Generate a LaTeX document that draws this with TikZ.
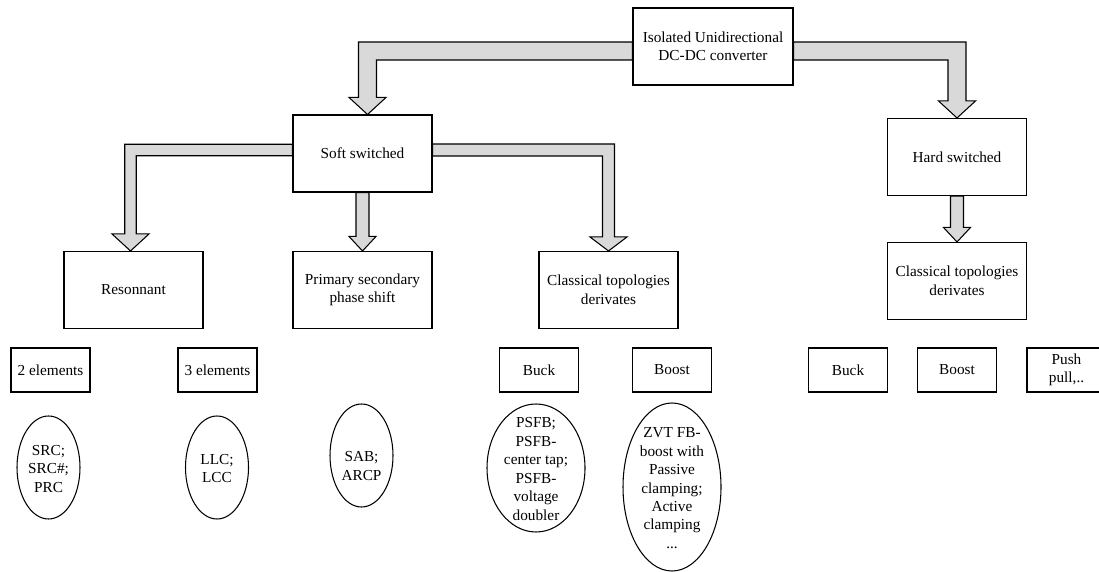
\documentclass[tikz,border=0pt]{standalone}
\usepackage{fontspec}
\setmainfont{Liberation Serif}
\usetikzlibrary{calc, shapes.geometric}
\definecolor{arrowfill}{HTML}{D9D9D9}
\colorlet{boxline}{black}
\newcommand{\leaftext}[2][0pt]{%
    \smash{\raisebox{\dimexpr-3.6pt-#1\relax}{\begin{tabular}{@{}c@{}}#2\end{tabular}}}}

\begin{document}
\begin{tikzpicture}[
    font=\fontsize{8.7}{10.5}\selectfont,
    bigbox/.style={draw=boxline, line width=0.6pt, minimum width=2.78cm,
                   minimum height=1.54cm, align=center, inner sep=2pt},
    smallbox/.style={draw=boxline, line width=0.6pt, minimum width=1.58cm,
                     minimum height=0.88cm, align=center, inner sep=2pt},
    leaf/.style={ellipse, draw=boxline, line width=0.6pt, inner sep=0pt,
                 minimum width=1.26cm, minimum height=2.06cm},
    wideleaf/.style={leaf, minimum width=1.96cm},
    blockarrow/.style={fill=arrowfill, draw=boxline, line width=0.6pt,
                       line join=miter},
]

\useasboundingbox (0, 0) rectangle (21.98, 11.44);

\def\toprow{8.37}
\def\midrow{5.64}
\def\boxrow{4.04}

% ── Block arrow macros: #1 from, #2 tip, #3 half shaft, #4 half head,
%    #5 head length ──
\newcommand{\elbowarrow}[5]{
    \filldraw[blockarrow] let \p1 = (#1), \p2 = (#2), \n1 = {sign(\x2-\x1)} in
        (\x1, \y1+#3) -- (\x2+\n1*#3, \y1+#3) -- (\x2+\n1*#3, \y2+#5)
        -- (\x2+\n1*#4, \y2+#5) -- (\x2, \y2) -- (\x2-\n1*#4, \y2+#5)
        -- (\x2-\n1*#3, \y2+#5) -- (\x2-\n1*#3, \y1-#3) -- (\x1, \y1-#3) -- cycle;
}
\newcommand{\droparrow}[5]{
    \filldraw[blockarrow] let \p1 = (#1), \p2 = (#2) in
        (\x2-#3, \y1) -- (\x2-#3, \y2+#5) -- (\x2-#4, \y2+#5) -- (\x2, \y2)
        -- (\x2+#4, \y2+#5) -- (\x2+#3, \y2+#5) -- (\x2+#3, \y1) -- cycle;
}

% ════════════════════════════════════════════════════════════
% ROOT and the two families
% ════════════════════════════════════════════════════════════
\node[bigbox, minimum width=3.2cm] (iso) at (14.26, 10.51)
    {Isolated Unidirectional\\DC-DC converter};
\node[bigbox] (soft) at (7.25, \toprow) {Soft switched};
\node[bigbox] (hard) at (19.14, 8.30) {Hard switched};

% ════════════════════════════════════════════════════════════
% Sub-families
% ════════════════════════════════════════════════════════════
\node[bigbox] (reson) at (2.67, \midrow) {Resonnant};
\node[bigbox] (phase) at (7.25, \midrow) {Primary secondary\\phase shift};
\node[bigbox] (softclass) at (12.17, \midrow) {Classical topologies\\derivates};
\node[bigbox] (hardclass) at (19.14, 5.82) {Classical topologies\\derivates};

% ── small boxes ──
\node[smallbox] (two) at (1.01, \boxrow) {2 elements};
\node[smallbox] (three) at (4.35, \boxrow) {3 elements};
\node[smallbox] (softbuck) at (10.78, \boxrow) {Buck};
\node[smallbox] (softboost) at (13.44, \boxrow) {Boost};
\node[smallbox] (hardbuck) at (16.96, \boxrow) {Buck};
\node[smallbox] (hardboost) at (19.14, \boxrow) {Boost};
\node[smallbox] (push) at (21.33, \boxrow) {Push\\pull,..};

% ── examples ──
\node[leaf] (src) at (0.97, 2.09) {\leaftext{SRC;\\SRC\#;\\PRC}};
\node[leaf] (llc) at (4.34, 2.09) {\leaftext{LLC;\\LCC}};
\node[leaf] (sab) at (7.23, 2.33) {\leaftext[5.4pt]{SAB;\\ARCP}};
\node[wideleaf, minimum height=2.56cm] (psfb) at (10.72, 2.08)
    {\leaftext{PSFB;\\PSFB-\\center tap;\\PSFB-\\voltage\\doubler}};
\node[wideleaf, minimum height=3.36cm] (zvt) at (13.44, 1.70)
    {\leaftext{ZVT FB-\\boost with\\Passive\\clamping;\\Active\\clamping\\...}};

% ════════════════════════════════════════════════════════════
% Block arrows
% ════════════════════════════════════════════════════════════
\elbowarrow{[yshift=-0.09cm]iso.west}{[xshift=0.1cm]soft.north}{0.18cm}{0.37cm}{0.34cm}
\elbowarrow{[yshift=-0.09cm]iso.east}{hard.north}{0.18cm}{0.37cm}{0.34cm}
\elbowarrow{[yshift=0.07cm]soft.west}{[xshift=-0.06cm]reson.north}{0.115cm}{0.37cm}{0.34cm}
\elbowarrow{[yshift=0.07cm]soft.east}{softclass.north}{0.12cm}{0.37cm}{0.28cm}
\droparrow{soft.south}{phase.north}{0.13cm}{0.27cm}{0.29cm}
\droparrow{hard.south}{hardclass.north}{0.13cm}{0.27cm}{0.29cm}

\end{tikzpicture}
\end{document}
